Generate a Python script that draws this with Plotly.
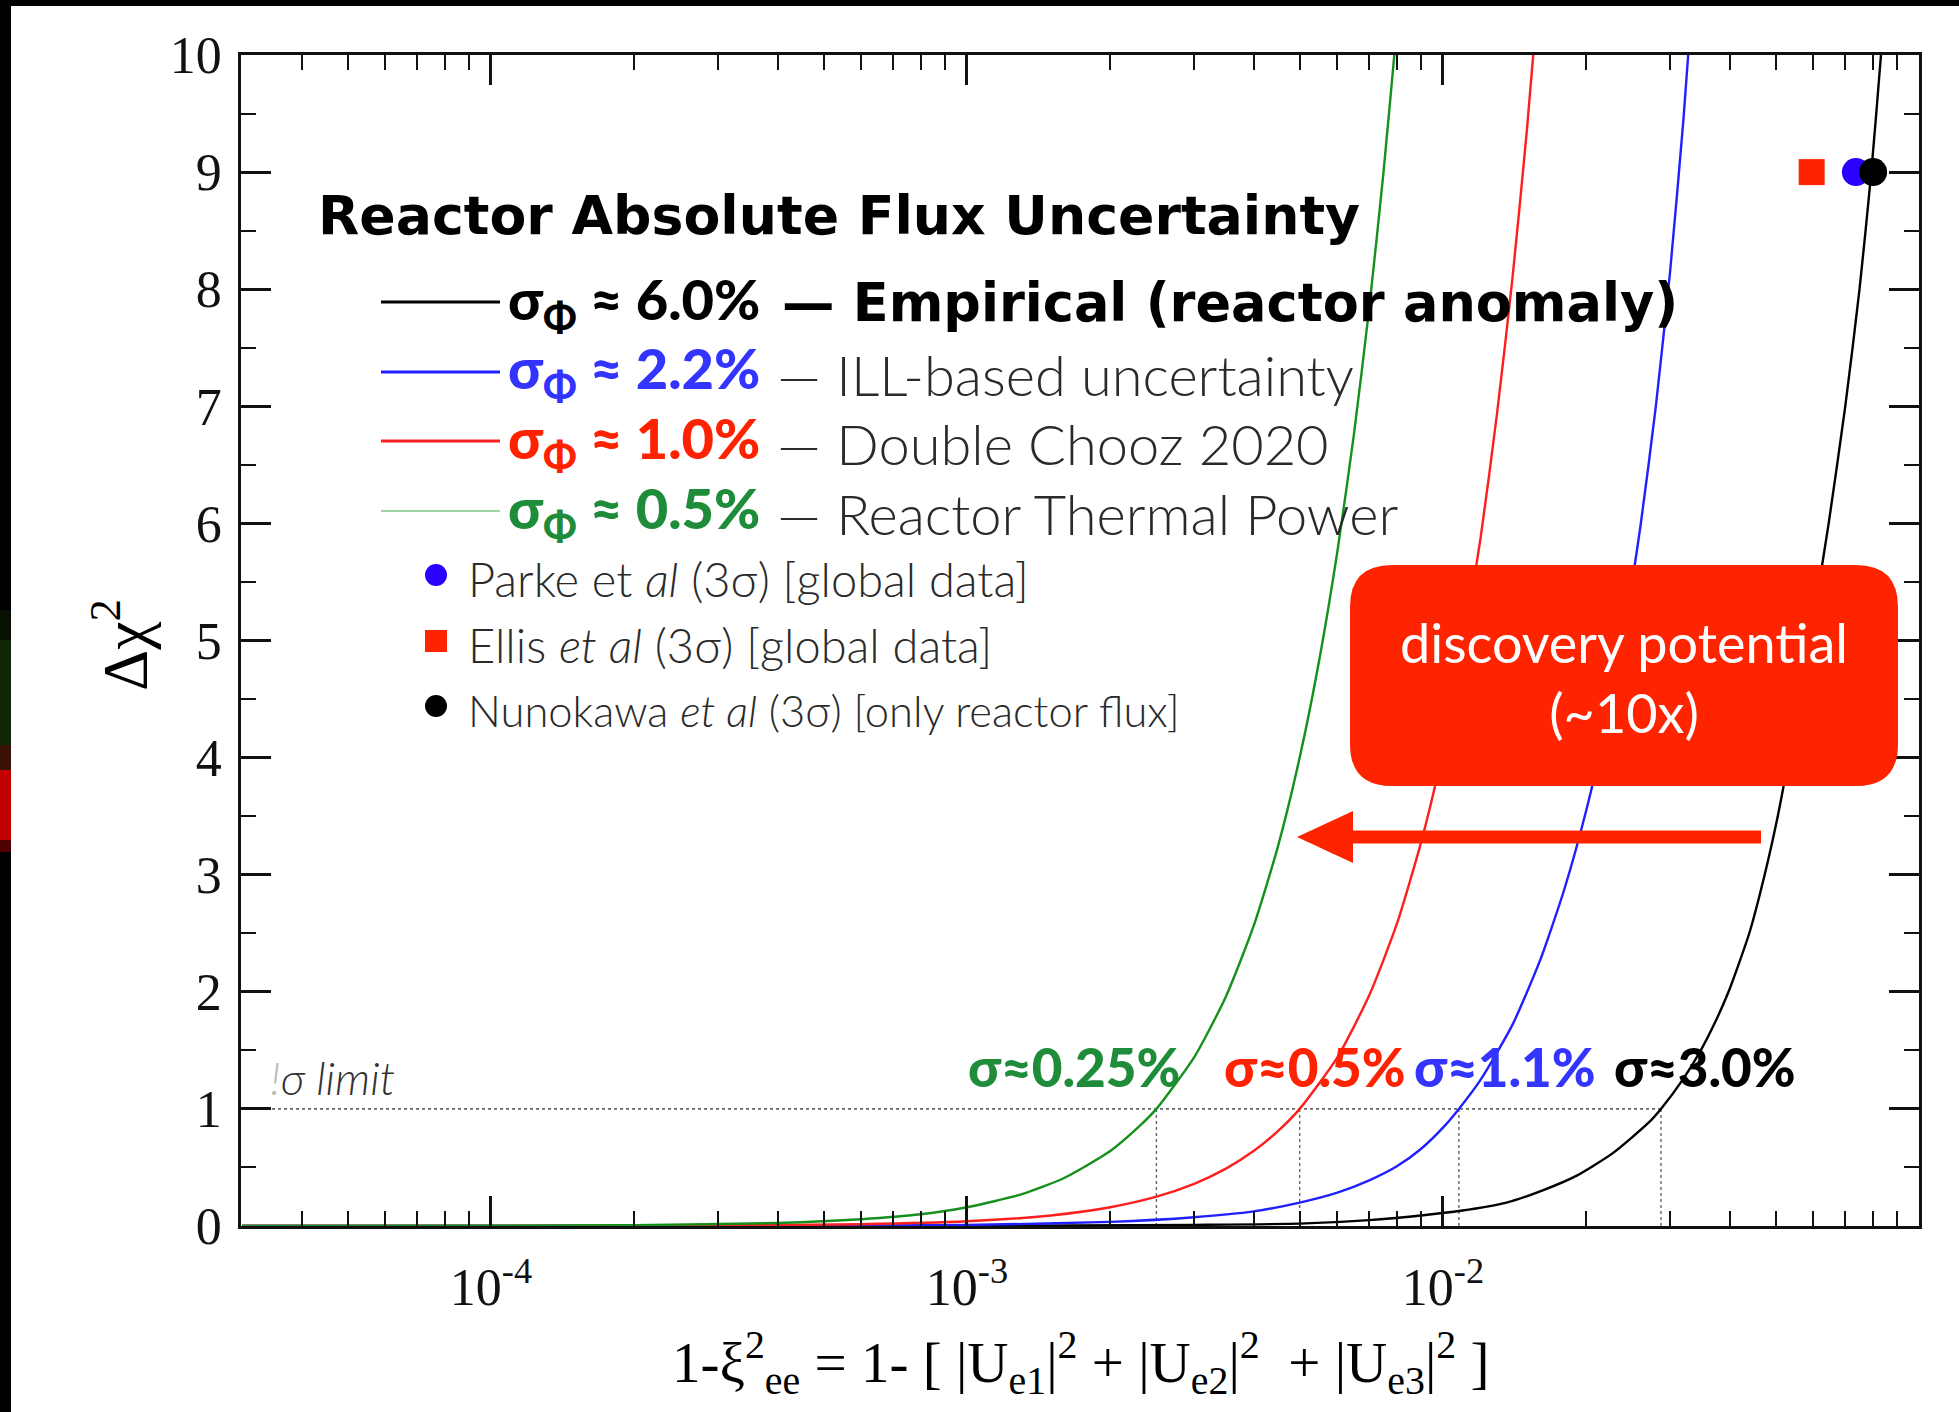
import math
import plotly.graph_objects as go

# ---------------- data ----------------
x_green = [3.0e-5, 1.0e-4, 2.0e-4, 4.0e-4, 6.0e-4, 8.0e-4, 1.0e-3, 1.3e-3, 1.6e-3, 2.0e-3,
           2.3e-3, 2.5e-3, 3.0e-3, 3.5e-3, 4.0e-3, 4.5e-3, 5.0e-3, 5.5e-3, 6.0e-3, 6.5e-3,
           7.0e-3, 7.5e-3, 8.0e-3, 8.3e-3]
y_green = [0.0, 0.002, 0.007, 0.026, 0.058, 0.10, 0.16, 0.27, 0.41, 0.64,
           0.85, 1.0, 1.44, 1.96, 2.56, 3.24, 4.0, 4.84, 5.76, 6.76,
           7.84, 9.0, 10.24, 11.0]

x_red = [3.0e-5, 1.0e-4, 3.0e-4, 6.0e-4, 1.0e-3, 1.5e-3, 2.0e-3, 2.5e-3, 3.0e-3, 3.5e-3,
         4.0e-3, 4.5e-3, 5.0e-3, 6.0e-3, 7.0e-3, 8.0e-3, 9.0e-3, 1.0e-2, 1.1e-2, 1.2e-2,
         1.3e-2, 1.4e-2, 1.5e-2, 1.6e-2]
y_red = [0.0, 0.0005, 0.004, 0.015, 0.04, 0.09, 0.16, 0.25, 0.36, 0.49,
         0.64, 0.81, 1.0, 1.44, 1.97, 2.58, 3.28, 4.06, 4.93, 5.88,
         6.95, 8.1, 9.35, 10.7]

x_blue = [3.0e-5, 1.0e-4, 3.0e-4, 1.0e-3, 2.0e-3, 3.0e-3, 4.0e-3, 5.0e-3, 6.0e-3, 7.0e-3,
          8.0e-3, 9.0e-3, 1.0e-2, 1.08e-2, 1.2e-2, 1.4e-2, 1.6e-2, 1.8e-2, 2.0e-2, 2.2e-2,
          2.4e-2, 2.6e-2, 2.8e-2, 3.0e-2, 3.2e-2, 3.4e-2]
y_blue = [0.0, 0.0, 0.001, 0.009, 0.035, 0.075, 0.125, 0.20, 0.285, 0.39,
          0.51, 0.66, 0.84, 1.0, 1.25, 1.72, 2.27, 2.88, 3.55, 4.28,
          5.08, 5.98, 7.0, 8.15, 9.45, 10.9]

x_black = [3.0e-5, 1.0e-3, 3.0e-3, 5.0e-3, 7.0e-3, 9.0e-3, 1.09e-2, 1.36e-2, 1.61e-2, 1.91e-2,
           2.27e-2, 2.70e-2, 2.87e-2, 3.19e-2, 3.48e-2, 3.74e-2, 3.98e-2, 4.40e-2, 4.74e-2, 5.05e-2,
           5.33e-2, 5.90e-2, 6.46e-2, 7.00e-2, 7.50e-2, 7.94e-2, 8.32e-2, 8.5e-2]
y_black = [0.0, 0.001, 0.01, 0.02, 0.05, 0.09, 0.13, 0.20, 0.30, 0.43,
           0.62, 0.88, 1.0, 1.25, 1.5, 1.75, 2.0, 2.5, 3.0, 3.5,
           4.0, 5.0, 6.0, 7.0, 8.0, 9.0, 10.0, 10.5]

# 1-sigma crossings (green, red, blue, black)
x_cross = [0.0025, 0.0050, 0.0108, 0.0287]
limit_level = 1.0
x_limit_start = 3.0e-5

# literature points at 3 sigma
ref_names = ["Ellis et al", "Parke et al", "Nunokawa et al"]
ref_x = [0.0595, 0.0737, 0.0801]
ref_y = [9.0, 9.0, 9.0]

x_tickvals = [1e-4, 1e-3, 1e-2, 1e-1]
x_ticktext = ["10<sup>-4</sup>", "10<sup>-3</sup>", "10<sup>-2</sup>", "10<sup>-1</sup>"]
x_minor = ([m * 1e-5 for m in range(4, 10)] + [m * 1e-4 for m in range(2, 10)] +
           [m * 1e-3 for m in range(2, 10)] + [m * 1e-2 for m in range(2, 10)])
y_tickvals = list(range(0, 11))

# ---------------- layout helpers ----------------
W, H = 1959, 1412
L, R, T, B = 241, 1919, 55, 1226


def px(x):
    return (x - L) / (R - L)


def py(y):
    return (B - y) / (B - T)


C_GREEN = "#15901c"
C_RED = "#ff1e1e"
C_BLUE = "#2020ff"
C_BLACK = "#000000"
T_BLUE = "#3434ff"
T_RED = "#ff2200"
T_GREEN = "#1f8c3a"
BOX_RED = "#ff2400"

fig = go.Figure()

# dotted 1-sigma guides
fig.add_trace(go.Scatter(x=[x_limit_start, x_cross[-1]], y=[limit_level, limit_level], mode="lines",
                         line=dict(color="#666666", width=1.6, dash="dot"), hoverinfo="skip", showlegend=False))
for xc in x_cross:
    fig.add_trace(go.Scatter(x=[xc, xc], y=[0, limit_level], mode="lines",
                             line=dict(color="#666666", width=1.4, dash="dot"), hoverinfo="skip", showlegend=False))

# curves
for xs, ys, col in [(x_black, y_black, C_BLACK), (x_blue, y_blue, C_BLUE),
                    (x_red, y_red, C_RED), (x_green, y_green, C_GREEN)]:
    fig.add_trace(go.Scatter(x=xs, y=ys, mode="lines",
                             line=dict(color=col, width=2.4, shape="spline", smoothing=0.6),
                             hoverinfo="skip", showlegend=False))

# literature points
fig.add_trace(go.Scatter(x=[ref_x[0]], y=[ref_y[0]], mode="markers",
                         marker=dict(symbol="square", size=26, color=BOX_RED), showlegend=False))
fig.add_trace(go.Scatter(x=[ref_x[1]], y=[ref_y[1]], mode="markers",
                         marker=dict(symbol="circle", size=28, color="#2a00ff"), showlegend=False))
fig.add_trace(go.Scatter(x=[ref_x[2]], y=[ref_y[2]], mode="markers",
                         marker=dict(symbol="circle", size=28, color="#000000"), showlegend=False))

shapes = []
annotations = []

# black slide frame (top and left)
shapes.append(dict(type="rect", xref="paper", yref="paper", x0=px(0), x1=px(W), y0=py(0), y1=py(6),
                   fillcolor="black", line=dict(width=0), layer="above"))
shapes.append(dict(type="rect", xref="paper", yref="paper", x0=px(0), x1=px(11), y0=py(0), y1=py(H),
                   fillcolor="black", line=dict(width=0), layer="above"))
for (ya, yb, colr) in [(610, 640, "#071204"), (640, 745, "#0f2607"), (745, 770, "#3a1205"),
                       (770, 840, "#c20000"), (840, 852, "#500000")]:
    shapes.append(dict(type="rect", xref="paper", yref="paper", x0=px(0), x1=px(11), y0=py(ya), y1=py(yb),
                       fillcolor=colr, line=dict(width=0), layer="above"))


def ann(text, x, y, size, color="#000", weight=400, family="Lato", xanchor="left", yanchor="middle",
        style="normal", angle=0):
    annotations.append(dict(text=text, x=px(x), y=py(y), xref="paper", yref="paper", showarrow=False,
                            xanchor=xanchor, yanchor=yanchor, textangle=angle,
                            font=dict(family=family, size=size, color=color, weight=weight, style=style)))


# legend title
ann("Reactor Absolute Flux Uncertainty", 316, 215, 53.7, weight=700, family="DejaVu Sans")

# legend lines
leg_rows = [
    (302, C_BLACK, 3.2, "σ<sub>Φ</sub> ≈ 6.0%", "#000000", "— Empirical (reactor anomaly)"),
    (372, C_BLUE, 2.8, "σ<sub>Φ</sub> ≈ 2.2%", T_BLUE, "— ILL-based uncertainty"),
    (441, C_RED, 2.8, "σ<sub>Φ</sub> ≈ 1.0%", T_RED, "— Double Chooz 2020"),
    (511, "#7cc47c", 1.6, "σ<sub>Φ</sub> ≈ 0.5%", T_GREEN, "— Reactor Thermal Power"),
]
for i, (yy, lc, lw, bold, bcol, light) in enumerate(leg_rows):
    shapes.append(dict(type="line", xref="paper", yref="paper", x0=px(381), x1=px(500), y0=py(yy), y1=py(yy),
                       line=dict(color=lc, width=lw)))
    ann(bold, 506, yy, 56, color=bcol, weight=900)
    if i == 0:
        ann(light, 780, yy, 52.5, color="#000000", weight=700, family="DejaVu Sans")
    else:
        ann(light, 775, yy + 2, 56, color="#2a2a2a", weight=300)

# marker legend
mk_rows = [
    (575, "circle", "#2a00ff", "Parke et <i>al</i> (3σ) [global data]", 47),
    (641, "square", BOX_RED, "Ellis <i>et al</i> (3σ) [global data]", 47),
    (706, "circle", "#000000", "Nunokawa <i>et al</i> (3σ) [only reactor flux]", 43.5),
]
for yy, sym, col, txt, fs in mk_rows:
    r = 11
    shapes.append(dict(type="circle" if sym == "circle" else "rect", xref="paper", yref="paper",
                       x0=px(436 - r), x1=px(436 + r), y0=py(yy - r), y1=py(yy + r),
                       fillcolor=col, line=dict(width=0)))
    ann(txt, 466, yy + 4, fs, color="#2a2a2a", weight=300)

# sigma labels along the 1-sigma line
for txt, col, xl in [("σ≈0.25%", T_GREEN, 966), ("σ≈0.5%", T_RED, 1222),
                     ("σ≈1.1%", T_BLUE, 1412), ("σ≈3.0%", "#000000", 1612)]:
    ann(txt, xl, 1066, 53, color=col, weight=900)

# 1 sigma limit text
ann("<span style='color:#bbbbbb'>!</span>σ limit", 268, 1078, 45, color="#333333", weight=300, style="italic")

# discovery box
x0b, x1b, y0b, y1b, rb = 1350, 1898, 565, 786, 42
path = (f"M {px(x0b + rb)},{py(y0b)} L {px(x1b - rb)},{py(y0b)} Q {px(x1b)},{py(y0b)} {px(x1b)},{py(y0b + rb)} "
        f"L {px(x1b)},{py(y1b - rb)} Q {px(x1b)},{py(y1b)} {px(x1b - rb)},{py(y1b)} "
        f"L {px(x0b + rb)},{py(y1b)} Q {px(x0b)},{py(y1b)} {px(x0b)},{py(y1b - rb)} "
        f"L {px(x0b)},{py(y0b + rb)} Q {px(x0b)},{py(y0b)} {px(x0b + rb)},{py(y0b)} Z")
shapes.append(dict(type="path", xref="paper", yref="paper", path=path, fillcolor=BOX_RED, line=dict(width=0)))
ann("discovery potential<br>(~10x)", 1624, 677, 54, color="white", weight=400, xanchor="center")

# arrow
shapes.append(dict(type="line", xref="paper", yref="paper", x0=px(1761), x1=px(1340), y0=py(837), y1=py(837),
                   line=dict(color=BOX_RED, width=13)))
tri = f"M {px(1297)},{py(837)} L {px(1353)},{py(811)} L {px(1353)},{py(863)} Z"
shapes.append(dict(type="path", xref="paper", yref="paper", path=tri, fillcolor=BOX_RED, line=dict(width=0)))

# axis titles
ann("Δχ<sup>2</sup>", 120, 645, 64, family="Liberation Serif", xanchor="center", angle=-90)
ann("1-ξ<sup>2</sup><sub>ee</sub> = 1- [ |U<sub>e1</sub>|<sup>2</sup> + |U<sub>e2</sub>|<sup>2</sup>  + |U<sub>e3</sub>|<sup>2</sup> ]",
    1081, 1362, 57, family="Liberation Serif", xanchor="center")

axis_common = dict(showline=True, mirror="ticks", linewidth=2.5, linecolor="#111111",
                   ticks="inside", ticklen=30, tickwidth=2.5, tickcolor="#111111",
                   showgrid=False, zeroline=False,
                   tickfont=dict(family="Liberation Serif", size=52, color="#111111"))

fig.update_layout(
    width=W, height=H,
    margin=dict(l=L, r=W - R, t=T, b=H - B, autoexpand=False),
    paper_bgcolor="white", plot_bgcolor="white",
    showlegend=False,
    xaxis=dict(type="log", range=[math.log10(2.985e-5), -1], tickmode="array",
               tickvals=x_tickvals, ticktext=x_ticktext, ticklabelstandoff=14,
               minor=dict(tickmode="array", tickvals=x_minor, ticks="inside", ticklen=15,
                          tickwidth=2, tickcolor="#111111"),
               **axis_common),
    yaxis=dict(range=[0, 10], tickmode="array", tickvals=y_tickvals, ticklabelstandoff=6,
               minor=dict(dtick=0.5, ticks="inside", ticklen=15, tickwidth=2, tickcolor="#111111"),
               **axis_common),
    shapes=shapes,
    annotations=annotations,
)

fig.write_html("out.html")
